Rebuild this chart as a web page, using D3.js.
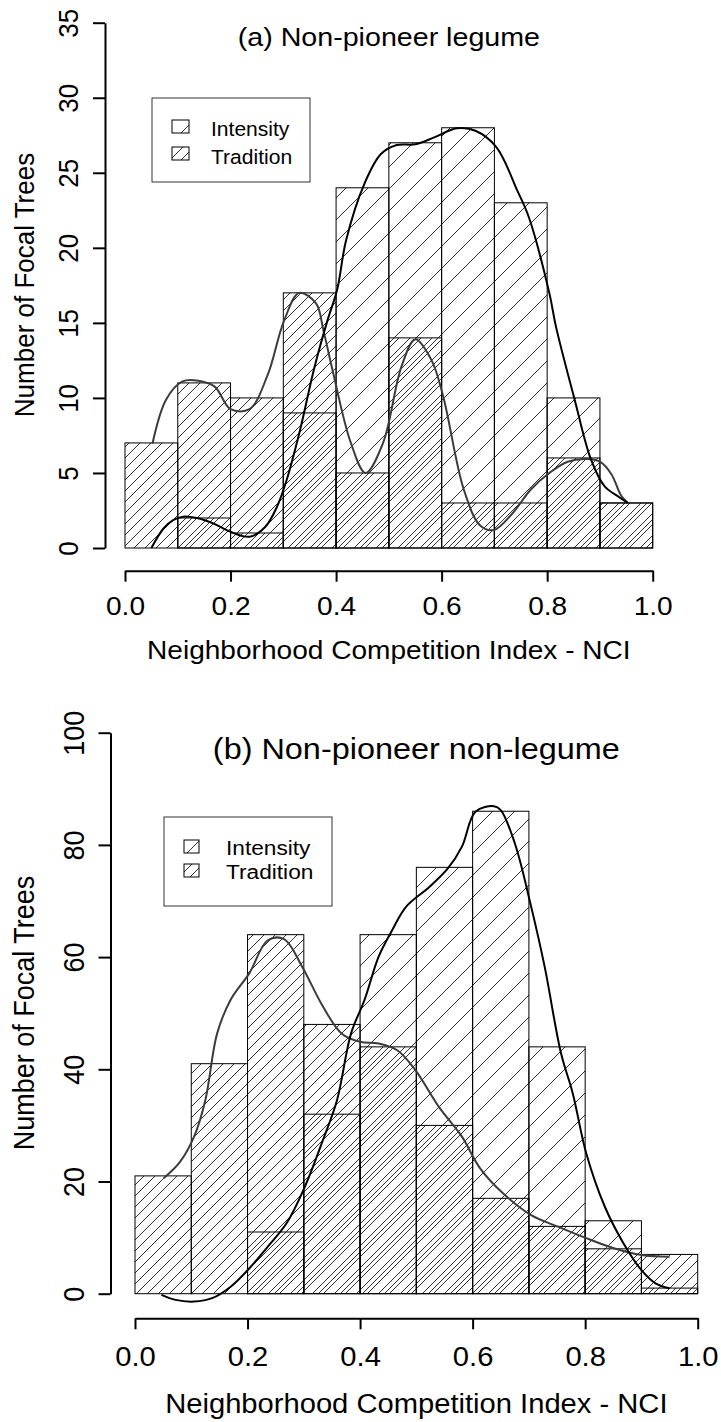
<!DOCTYPE html>
<html>
<head>
<meta charset="utf-8">
<script src="https://cdn.jsdelivr.net/npm/d3@7"></script>
<style>
  body { margin: 0; background: #fff; }
  svg { display: block; }
  text { font-family: "Liberation Sans", Arial, sans-serif; fill: #000; }
</style>
</head>
<body>
<script>
// 分组：每个直方图柱的起点（宽 0.1）
var binStarts = [0.0, 0.1, 0.2, 0.3, 0.4, 0.5, 0.6, 0.7, 0.8, 0.9];
var xTicks = [0.0, 0.2, 0.4, 0.6, 0.8, 1.0];

// (a) Non-pioneer legume
var intensityA = [0, 2, 1, 9, 24, 27, 28, 23, 10, 3];
var traditionA = [7, 11, 10, 17, 5, 14, 3, 3, 6, 3];
var yTicksA = [0, 5, 10, 15, 20, 25, 30, 35];

// (b) Non-pioneer non-legume
var intensityB = [0, 0, 11, 32, 64, 76, 86, 44, 13, 1];
var traditionB = [21, 41, 64, 48, 44, 30, 17, 12, 8, 7];
var yTicksB = [0, 20, 40, 60, 80, 100];

// 密度曲线（从图中读取的点 [NCI, 数量]）
var curveIntensityA = [[0.05,0],[0.073,1.3],[0.092,1.87],[0.11,2.09],[0.136,2.0],[0.167,1.64],[0.199,1.09],[0.236,0.75],[0.266,1.42],[0.288,2.75],[0.306,4.5],[0.332,7.9],[0.358,11.9],[0.384,15.2],[0.402,17.2],[0.419,20.5],[0.454,24.3],[0.485,26.25],[0.515,26.85],[0.55,26.9],[0.586,27.36],[0.629,27.96],[0.664,27.8],[0.704,26.7],[0.743,23.85],[0.765,22.07],[0.804,17],[0.817,14.7],[0.852,9.9],[0.883,5.9],[0.909,4.1],[0.936,3.4],[0.953,3.0]];
var curveTraditionA = [[0.052,6.95],[0.078,9.9],[0.109,11.1],[0.139,11.15],[0.17,10.75],[0.2,9.25],[0.236,9.25],[0.27,11.5],[0.301,15.1],[0.33,17],[0.362,16.3],[0.376,14.5],[0.393,11.9],[0.428,7],[0.456,5],[0.489,7],[0.524,12.1],[0.55,13.9],[0.581,12.5],[0.603,10.1],[0.642,3.9],[0.673,1.5],[0.699,1.2],[0.734,2.3],[0.769,3.9],[0.804,5],[0.839,5.75],[0.874,5.93],[0.9,5.75],[0.922,4.9],[0.94,3.5],[0.953,3.0]];
var curveIntensityB = [[0.047,-0.2],[0.072,-1.1],[0.105,-1.4],[0.137,-0.8],[0.17,1.25],[0.203,4.5],[0.236,8.4],[0.269,12.5],[0.302,19.1],[0.334,27.4],[0.359,34.5],[0.384,46.4],[0.408,52.4],[0.433,60.1],[0.457,64.8],[0.482,69],[0.523,72.5],[0.556,75.8],[0.581,79.7],[0.605,85.9],[0.638,86.9],[0.65,86.2],[0.675,80.3],[0.704,69],[0.728,58.3],[0.757,42.9],[0.778,35.7],[0.802,25],[0.835,15.5],[0.868,9],[0.9,4.2],[0.925,1.85],[0.95,0.96]];
var curveTraditionB = [[0.051,20.6],[0.08,23.5],[0.105,28],[0.125,34.5],[0.146,46.4],[0.17,52.4],[0.203,57.1],[0.236,63],[0.265,63.2],[0.297,58.3],[0.334,51.2],[0.367,46.4],[0.4,44.9],[0.433,44.6],[0.466,43.4],[0.498,39.9],[0.54,33.3],[0.581,28],[0.613,22.4],[0.654,17.9],[0.704,14],[0.753,11.9],[0.802,9.9],[0.851,8.1],[0.9,6.9],[0.95,6.6]];

var legendLabels = ["Intensity", "Tradition"];
var xLabel = "Neighborhood Competition Index - NCI";
var yLabel = "Number of Focal Trees";

var w = 721;
var h = 1422;
var SX = 1.08; // 原图文字略被横向拉宽

var svg = d3.select("body").append("svg").attr("width", w).attr("height", h);
var defs = svg.append("defs");

// 斜线填充图案
function hatch(id, step, offset) {
  var p = defs.append("pattern")
    .attr("id", id)
    .attr("patternUnits", "userSpaceOnUse")
    .attr("width", step)
    .attr("height", step)
    .attr("patternTransform", "translate(" + offset + ",0)");
  p.append("path")
    .attr("d", "M0," + step + "L" + step + ",0" +
      "M-2,2L2,-2" +
      "M" + (step - 2) + "," + (step + 2) + "L" + (step + 2) + "," + (step - 2))
    .attr("stroke", "#1a1a1a")
    .attr("stroke-width", 0.9)
    .attr("fill", "none");
}
hatch("sparse", 22, 6);
hatch("dense", 11, 0);

function label(x, y, s, size, rotate) {
  svg.append("text")
    .attr("transform", "translate(" + x + "," + y + ") scale(" + SX + ",1)" + (rotate ? " rotate(-90)" : ""))
    .attr("text-anchor", "middle")
    .style("font-size", size + "px")
    .text(s);
}

function panel(p) {
  var x = d3.scaleLinear().domain([0, 1]).range([p.x0, p.x1]);
  var y = d3.scaleLinear().domain([0, p.yMax]).range([p.y0, p.y1]);
  var g = svg.append("g");

  // 直方图（两组叠加，透明背景）
  [[p.intensity, "url(#sparse)"], [p.tradition, "url(#dense)"]].forEach(function (s) {
    g.append("g").selectAll("rect")
      .data(binStarts)
      .enter()
      .append("rect")
      .attr("x", function (d) { return x(d); })
      .attr("width", x(0.1) - x(0))
      .attr("y", function (d, i) { return y(s[0][i]); })
      .attr("height", function (d, i) { return y(0) - y(s[0][i]); })
      .attr("fill", s[1])
      .attr("stroke", "#000")
      .attr("stroke-width", 1);
  });

  // 密度曲线
  var line = d3.line()
    .x(function (d) { return x(d[0]); })
    .y(function (d) { return y(d[1]); })
    .curve(d3.curveCatmullRom);
  g.append("path").attr("d", line(p.curveT)).attr("fill", "none").attr("stroke", "#3c3c3c").attr("stroke-width", 2);
  g.append("path").attr("d", line(p.curveI)).attr("fill", "none").attr("stroke", "#000").attr("stroke-width", 2);

  // Y 轴
  var ya = svg.append("g")
    .attr("transform", "translate(" + p.axisX + ",0)")
    .call(d3.axisLeft(y).tickValues(p.yTicks).tickSize(12).tickSizeOuter(0));
  ya.select(".domain").attr("stroke-width", 2);
  ya.selectAll(".tick line").attr("stroke-width", 2);
  ya.selectAll(".tick text")
    .attr("x", null).attr("dy", null)
    .attr("text-anchor", "middle")
    .attr("transform", "translate(-27,0) scale(" + SX + ",1) rotate(-90)")
    .style("font-size", p.tickFont + "px")
    .style("font-family", "'Liberation Sans', Arial, sans-serif");

  // X 轴（与柱子分开的下方轴线）
  var xa = svg.append("g")
    .attr("transform", "translate(0," + p.xAxisY + ")")
    .call(d3.axisBottom(x).tickValues(xTicks).tickSize(11).tickSizeOuter(0).tickFormat(d3.format(".1f")));
  xa.select(".domain").attr("stroke-width", 2);
  xa.selectAll(".tick line").attr("stroke-width", 2);
  xa.selectAll(".tick text")
    .attr("y", 0).attr("dy", null)
    .attr("transform", "translate(0," + p.xTickOff + ") scale(" + SX + ",1)")
    .style("font-size", p.tickFont + "px")
    .style("font-family", "'Liberation Sans', Arial, sans-serif");

  // 标题与轴标签
  var cx = (p.x0 + p.x1) / 2;
  label(cx, p.titleY, p.title, p.titleFont, false);
  label(cx, p.xLabelY, xLabel, p.labelFont, false);
  label(34, p.yLabelY, yLabel, p.labelFont, true);

  // 图例
  var L = p.legend;
  svg.append("rect")
    .attr("x", L.x).attr("y", L.y).attr("width", L.w).attr("height", L.h)
    .attr("fill", "#fff").attr("stroke", "#333").attr("stroke-width", 1);
  ["url(#sparse)", "url(#dense)"].forEach(function (f, i) {
    svg.append("rect")
      .attr("x", L.sx).attr("y", L.sy[i]).attr("width", L.sw).attr("height", L.sh)
      .attr("fill", f).attr("stroke", "#000").attr("stroke-width", 1);
    svg.append("text")
      .attr("transform", "translate(" + L.tx + "," + L.ty[i] + ") scale(" + SX + ",1)")
      .style("font-size", L.font + "px")
      .text(legendLabels[i]);
  });
}

panel({
  title: "(a) Non-pioneer legume",
  intensity: intensityA, tradition: traditionA,
  curveI: curveIntensityA, curveT: curveTraditionA,
  yMax: 35, yTicks: yTicksA,
  x0: 125, x1: 652.7, y0: 548, y1: 22.7,
  axisX: 105, xAxisY: 570.7, xTickOff: 44.3,
  tickFont: 26, titleFont: 26.5, labelFont: 26,
  titleY: 46, xLabelY: 659, yLabelY: 285,
  legend: { x: 152, y: 98, w: 158, h: 84, sx: 172, sw: 17, sh: 13, sy: [120, 147], tx: 211, ty: [136, 164], font: 19.5 }
});

panel({
  title: "(b) Non-pioneer non-legume",
  intensity: intensityB, tradition: traditionB,
  curveI: curveIntensityB, curveT: curveTraditionB,
  yMax: 100, yTicks: yTicksB,
  x0: 135, x1: 697.7, y0: 1293.7, y1: 732.7,
  axisX: 110.5, xAxisY: 1318.3, xTickOff: 47.7,
  tickFont: 27, titleFont: 30, labelFont: 27,
  titleY: 759, xLabelY: 1413, yLabelY: 1013,
  legend: { x: 164, y: 817, w: 168, h: 89, sx: 184, sw: 15, sh: 13, sy: [840, 864], tx: 226, ty: [855, 879], font: 21 }
});
</script>
</body>
</html>
